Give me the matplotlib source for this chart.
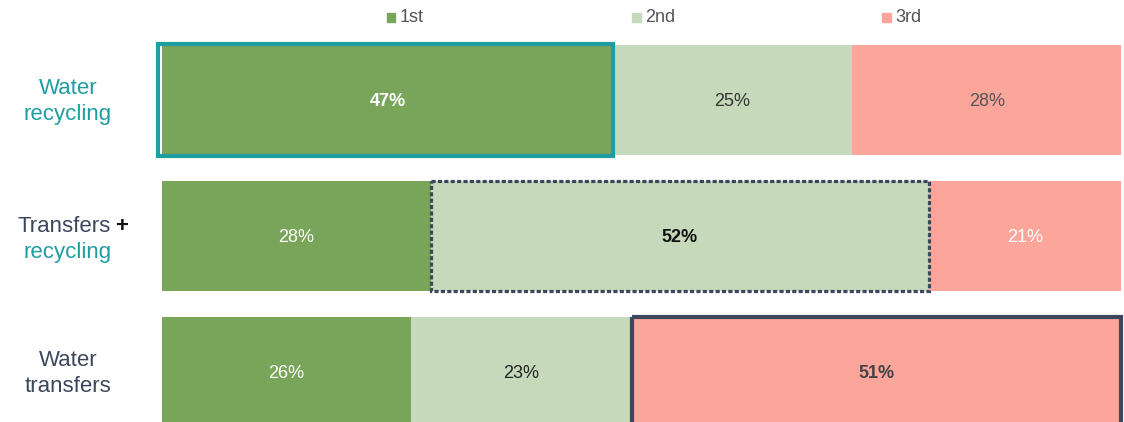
import matplotlib.pyplot as plt
from matplotlib.patches import Rectangle

plt.rcParams['font.family'] = ['Liberation Sans', 'DejaVu Sans']

# survey ranking shares per option (percent)
options = ['Water recycling', 'Transfers + recycling', 'Water transfers']
ranks = ['1st', '2nd', '3rd']
first = [47, 28, 26]
second = [25, 52, 23]
third = [28, 21, 51]
# which rank is highlighted for each option
highlight = [0, 1, 2]

colors = ['#78a55a', '#c6dabb', '#fca69b']
teal = '#1f9ea2'
navy = '#3c465c'
label_colors = [['white', '#333333', '#555555'],
                ['white', '#111111', 'white'],
                ['white', '#222222', '#444444']]

fig = plt.figure(figsize=(11.24, 4.22), dpi=100)
ax = fig.add_axes([162 / 1124, 0, 959 / 1124, 1])
ax.set_xlim(0, 100)
ax.set_ylim(2.368, -0.735)
ax.axis('off')

h = 0.81
for i in range(len(options)):
    vals = [first[i], second[i], third[i]]
    left = 0
    for j, w in enumerate(vals):
        ax.barh(i, w, left=left, height=h, color=colors[j], edgecolor='none')
        right = min(left + w, 100)
        bold = j == highlight[i]
        ax.text((left + right) / 2, i, f'{vals[j]}%', ha='center', va='center_baseline',
                fontsize=13, color=label_colors[i][j],
                fontweight='bold' if bold else 'normal')
        if bold:
            if i == 0:
                ax.add_patch(Rectangle((left - 0.45, i - 0.415), w + 0.45, 0.83,
                                       fill=False, edgecolor=teal, lw=3,
                                       clip_on=False, zorder=5))
            elif i == 1:
                ax.add_patch(Rectangle((left, i - h / 2), w, h, fill=False,
                                       edgecolor=navy, lw=2.3,
                                       linestyle=(0, (1.3, 0.7)),
                                       clip_on=False, zorder=5))
            else:
                ax.add_patch(Rectangle((left, i - h / 2), right - left, h, fill=False,
                                       edgecolor=navy, lw=3,
                                       clip_on=False, zorder=5))
        left += w

# row labels (two lines, baseline offsets in row units)
xl = -9.8
fs = 16
kw = dict(va='baseline', fontsize=fs, clip_on=False)
ax.text(xl, 0 - 0.044, 'Water', ha='center', color=teal, **kw)
ax.text(xl, 0 + 0.147, 'recycling', ha='center', color=teal, **kw)
ax.text(-5.3, 1 - 0.03, 'Transfers', ha='right', color=navy, **kw)
ax.text(-4.9, 1 - 0.03, '+', ha='left', color='#111111', fontweight='bold', **kw)
ax.text(xl, 1 + 0.16, 'recycling', ha='center', color=teal, **kw)
ax.text(xl, 2 - 0.044, 'Water', ha='center', color=navy, **kw)
ax.text(xl, 2 + 0.147, 'transfers', ha='center', color=navy, **kw)

# legend drawn by hand to match the spread-out layout
W, H = 1124, 422
leg_x = [387, 632, 882]
for x, c, lab in zip(leg_x, colors, ranks):
    fig.patches.append(Rectangle((x / W, (H - 21.5) / H), 8.5 / W, 8.5 / H, color=c,
                                 transform=fig.transFigure, figure=fig))
    fig.text((x + 13) / W, 1 - 22 / H, lab, ha='left', va='baseline',
             fontsize=13, color='#555555')

fig.savefig('out.png', dpi=100)
